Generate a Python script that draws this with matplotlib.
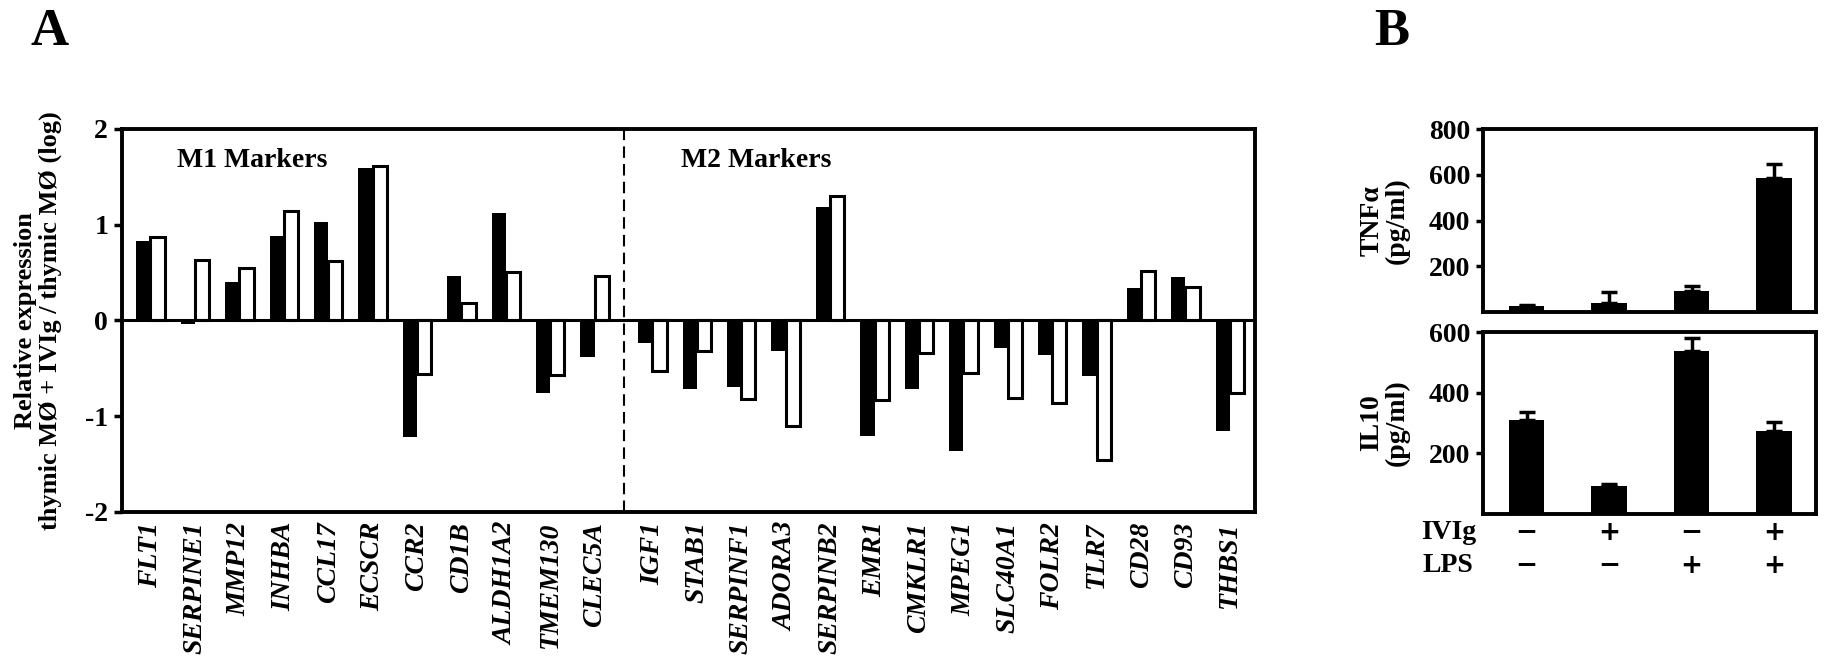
import matplotlib
matplotlib.use('Agg')
import matplotlib.pyplot as plt
import numpy as np

plt.rcParams['font.family'] = ['Liberation Serif', 'DejaVu Serif']
plt.rcParams['font.weight'] = 'bold'
plt.rcParams['axes.labelweight'] = 'bold'
plt.rcParams['axes.unicode_minus'] = False

# panel A: log relative expression, black = first bar, white = second bar
genes_m1 = ['FLT1', 'SERPINE1', 'MMP12', 'INHBA', 'CCL17', 'ECSCR', 'CCR2',
            'CD1B', 'ALDH1A2', 'TMEM130', 'CLEC5A']
genes_m2 = ['IGF1', 'STAB1', 'SERPINF1', 'ADORA3', 'SERPINB2', 'EMR1', 'CMKLR1',
            'MPEG1', 'SLC40A1', 'FOLR2', 'TLR7', 'CD28', 'CD93', 'THBS1']
black_m1 = [0.83, -0.04, 0.40, 0.88, 1.03, 1.59, -1.22, 0.46, 1.12, -0.76, -0.38]
white_m1 = [0.87, 0.63, 0.55, 1.14, 0.62, 1.61, -0.56, 0.18, 0.50, -0.57, 0.46]
black_m2 = [-0.24, -0.72, -0.70, -0.32, 1.18, -1.21, -0.72, -1.36, -0.29, -0.36,
            -0.58, 0.34, 0.45, -1.16]
white_m2 = [-0.53, -0.32, -0.82, -1.10, 1.30, -0.83, -0.34, -0.55, -0.81, -0.86,
            -1.46, 0.52, 0.35, -0.76]

# panel B: cytokines (pg/ml), upper error only
conditions_ivig = ['\u2212', '+', '\u2212', '+']
conditions_lps = ['\u2212', '\u2212', '+', '+']
tnf = [26, 41, 90, 586]
tnf_err = [4, 46, 23, 62]
il10 = [310, 93, 536, 273]
il10_err = [26, 6, 44, 29]

fig = plt.figure(figsize=(18.27, 6.64), dpi=100)

# ---------------- panel A ----------------
axA = fig.add_axes([0.0668, 0.229, 0.620, 0.577])
x1 = np.arange(len(genes_m1))
x2 = np.arange(len(genes_m2)) + len(genes_m1) + 0.3
x = np.concatenate([x1, x2])
w = 0.32
axA.bar(x - w / 2, black_m1 + black_m2, w, color='black', linewidth=0, zorder=2)
axA.bar(x + w / 2, white_m1 + white_m2, w, color='white', edgecolor='black',
        linewidth=2.2, zorder=3)
axA.axhline(0, color='black', lw=2.2, zorder=4)
axA.axvline(10.65, color='black', ls=(0, (5.5, 3)), lw=1.5, zorder=1)

axA.set_xlim(-0.64, 24.86)
axA.set_ylim(-2, 2)
axA.set_yticks([-2, -1, 0, 1, 2])
axA.set_xticks(x)
axA.set_xticklabels(genes_m1 + genes_m2, rotation=90, fontstyle='italic',
                    fontweight='bold', fontsize=20)
axA.tick_params(axis='x', length=0, pad=7)
axA.tick_params(axis='y', length=6, width=2.5, labelsize=20, pad=4)
for s in axA.spines.values():
    s.set_linewidth(2.8)

axA.set_ylabel('Relative expression\nthymic M\u00d8 + IVIg / thymic M\u00d8 (log)',
               fontsize=19, linespacing=1.1)
axA.yaxis.set_label_coords(-0.053, 0.5)

axA.text(0.59, 1.67, 'M1 Markers', fontsize=20, va='center', ha='left')
axA.text(11.94, 1.67, 'M2 Markers', fontsize=20, va='center', ha='left')

# ---------------- panel B ----------------
xb = np.arange(4)
axB1 = fig.add_axes([0.8117, 0.530, 0.1823, 0.2756])
axB2 = fig.add_axes([0.8117, 0.226, 0.1823, 0.274])

for ax, vals, err, ylim, ticks, lab in [
        (axB1, tnf, tnf_err, 800, [200, 400, 600, 800], 'TNF\u03b1\n(pg/ml)'),
        (axB2, il10, il10_err, 600, [200, 400, 600], 'IL10\n(pg/ml)')]:
    ax.bar(xb, vals, 0.43, color='black', zorder=2)
    ax.errorbar(xb, vals, yerr=[np.zeros(4), err], fmt='none', ecolor='black',
                elinewidth=2.5, capsize=6, capthick=2.5, zorder=1)
    ax.set_xlim(-0.53, 3.51)
    ax.set_ylim(0, ylim)
    ax.set_yticks(ticks)
    ax.set_xticks([])
    ax.tick_params(axis='y', length=5, width=2.5, labelsize=20, pad=4)
    for s in ax.spines.values():
        s.set_linewidth(2.8)
    ax.set_ylabel(lab, fontsize=20, linespacing=1.0)
    ax.yaxis.set_label_coords(-0.22, 0.5)

tr = axB2.get_xaxis_transform()
axB2.text(-0.02, -0.104, 'IVIg', transform=axB2.transAxes, ha='right',
          va='center', fontsize=20)
axB2.text(-0.03, -0.286, 'LPS', transform=axB2.transAxes, ha='right',
          va='center', fontsize=20)
for i in range(4):
    axB2.text(xb[i], -0.104, conditions_ivig[i], transform=tr, ha='center',
              va='center', fontsize=19, family='DejaVu Sans', fontweight='bold')
    axB2.text(xb[i], -0.286, conditions_lps[i], transform=tr, ha='center',
              va='center', fontsize=19, family='DejaVu Sans', fontweight='bold')

fig.text(50 / 1827, 1 - 8 / 664, 'A', ha='center', va='top', fontsize=38)
fig.text(1392 / 1827, 1 - 8 / 664, 'B', ha='center', va='top', fontsize=38)

fig.savefig('out.png', dpi=100)
